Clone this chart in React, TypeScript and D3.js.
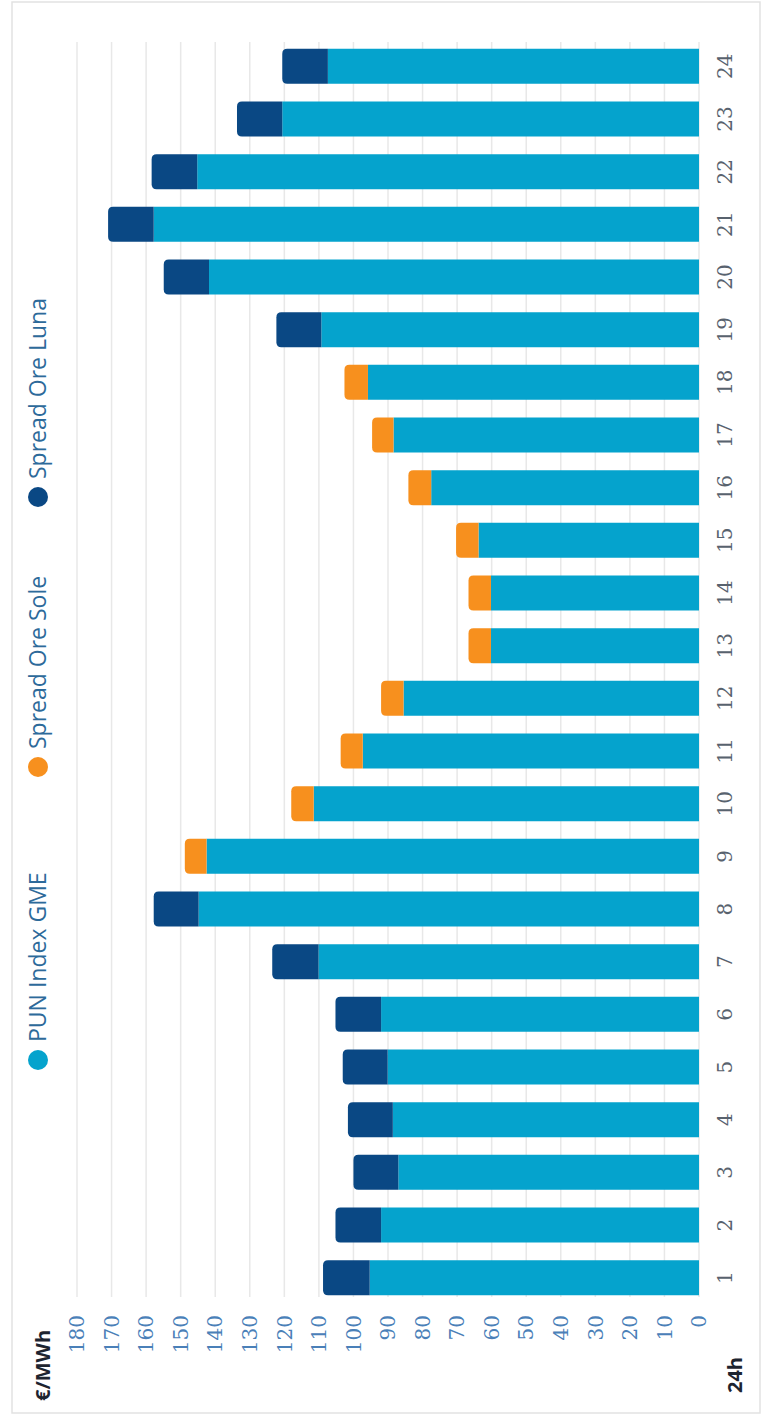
import React from "react";
import * as d3 from "d3";

const hours = ["1","2","3","4","5","6","7","8","9","10","11","12","13","14","15","16","17","18","19","20","21","22","23","24"];
const pun = [95.3, 92.0, 87.0, 88.6, 90.1, 92.0, 110.1, 144.8, 142.5, 111.5, 97.3, 85.5, 60.2, 60.2, 63.8, 77.5, 88.4, 95.8, 109.3, 141.8, 157.8, 145.2, 120.6, 107.4];
const sole = [0, 0, 0, 0, 0, 0, 0, 0, 6.3, 6.5, 6.4, 6.5, 6.5, 6.5, 6.5, 6.6, 6.2, 6.8, 0, 0, 0, 0, 0, 0];
const luna = [13.5, 13.2, 13.0, 13.0, 13.0, 13.2, 13.4, 13.0, 0, 0, 0, 0, 0, 0, 0, 0, 0, 0, 13.0, 13.1, 13.2, 13.2, 13.1, 13.2];
const yTicks = [0, 10, 20, 30, 40, 50, 60, 70, 80, 90, 100, 110, 120, 130, 140, 150, 160, 170, 180];
const seriesNames = ["PUN Index GME", "Spread Ore Sole", "Spread Ore Luna"];
const seriesKeys = ["pun", "sole", "luna"];
const colors = ["#05a3cd", "#f7901e", "#0a4884"];

// chart drawn in "unrotated" coordinates, then rotated -90deg
const W = 1415;

export default function App() {
  const rows = hours.map((h, i) => ({ hour: h, pun: pun[i], sole: sole[i], luna: luna[i] }));
  const stacked = d3.stack<any>().keys(seriesKeys)(rows);

  const x = d3.scaleBand().domain(hours).range([111, 1375]).paddingInner(0.336).paddingOuter(0.168);
  const y = d3.scaleLinear().domain([0, 180]).range([699, 77]);
  const r = 5;

  const legendX = [355, 648, 918];

  const bars: any[] = [];
  hours.forEach((h, i) => {
    const segs = stacked.map((s, k) => ({ k, y0: s[i][0], y1: s[i][1] })).filter((s) => s.y1 - s.y0 > 0);
    segs.forEach((s, j) => {
      const a = x(h)!;
      const w = x.bandwidth();
      const yb = y(s.y0);
      const yt = y(s.y1);
      let d;
      if (j === segs.length - 1) {
        d = `M${a},${yb}L${a},${yt + r}Q${a},${yt} ${a + r},${yt}L${a + w - r},${yt}Q${a + w},${yt} ${a + w},${yt + r}L${a + w},${yb}Z`;
      } else {
        d = `M${a},${yb}L${a},${yt}L${a + w},${yt}L${a + w},${yb}Z`;
      }
      bars.push(<path key={`${h}-${s.k}`} d={d} fill={colors[s.k]} />);
    });
  });

  return (
    <svg width={764} height={1415} style={{ position: "absolute", left: 0, top: 0, background: "#fff" }}>
      <rect x={12} y={2} width={748} height={1411} fill="#fff" stroke="#e2e2e2" strokeWidth={1.5} />
      <g transform={`translate(0,${W}) rotate(-90)`}>
        {yTicks.map((t) => (
          <line key={t} x1={118} x2={1373} y1={y(t)} y2={y(t)} stroke="#e8e8e8" strokeWidth={1.5} />
        ))}
        {bars}
        {yTicks.map((t) => (
          <text key={t} x={100} y={y(t)} dy="0.36em" textAnchor="end" fontFamily="DejaVu Serif" fontSize={20} fill="#4a80b8">
            {t}
          </text>
        ))}
        {hours.map((h) => (
          <text key={h} x={x(h)! + x.bandwidth() / 2} y={732} textAnchor="middle" fontFamily="DejaVu Serif" fontSize={20} fill="#58626e">
            {h}
          </text>
        ))}
        <text x={14} y={50} fontFamily="Open Sans" fontWeight="bold" fontSize={20} fill="#1d2430">€/MWh</text>
        <text x={22} y={742} fontFamily="Open Sans" fontWeight="bold" fontSize={20} fill="#1d2430">24h</text>
        {seriesNames.map((n, i) => (
          <g key={n} transform={`translate(${legendX[i]},38)`}>
            <circle cx={0} cy={0} r={10} fill={colors[i]} />
            <text x={18} y={0} dy="0.35em" fontFamily="Open Sans" fontSize={23} fill="#2d6a9a">{n}</text>
          </g>
        ))}
      </g>
    </svg>
  );
}
